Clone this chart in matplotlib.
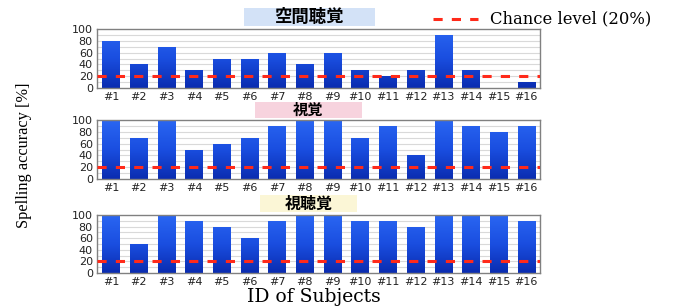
import numpy as np
import matplotlib
matplotlib.use("Agg")
import matplotlib.pyplot as plt
from matplotlib.colors import LinearSegmentedColormap
from matplotlib.patches import Rectangle

# Data
subjects = ["#%d" % i for i in range(1, 17)]
auditory = [80, 40, 70, 30, 50, 50, 60, 40, 60, 30, 20, 30, 90, 30, 0, 10]
visual = [100, 70, 100, 50, 60, 70, 90, 100, 100, 70, 90, 40, 100, 90, 80, 90]
audiovisual = [100, 50, 100, 90, 80, 60, 90, 100, 100, 90, 90, 80, 100, 100, 100, 90]
chance = 20

panel_titles = ["空間聴覚", "視覚", "視聴覚"]
title_colors = ["#d3e2f7", "#f7d3de", "#fbf6d6"]
title_sizes = [12.5, 11, 11.5]
panel_data = [auditory, visual, audiovisual]

W, H = 677, 307
fig = plt.figure(figsize=(W / 100, H / 100), dpi=100)

# axes boxes in pixels: (left, top, right, bottom)
boxes = [(97, 29, 540, 88), (97, 120, 540, 179), (97, 215, 540, 273)]
# title boxes in pixels: (left, top, right, bottom)
title_boxes = [(244, 8, 375, 26), (255, 102, 362, 118), (260, 195, 357, 212)]

grad = LinearSegmentedColormap.from_list("bar", ["#0a2cb0", "#1a4ee0", "#2a66f2"])
cjk = ["Noto Sans CJK JP", "DejaVu Sans"]
red = "#ff2a1a"
dash = (0, (3, 3))

x = np.arange(len(subjects))
gimg = np.linspace(0, 1, 256).reshape(-1, 1)
for vals, (l, t, r, b), title, tcol, tsize, (tl, tt, tr, tb) in zip(
        panel_data, boxes, panel_titles, title_colors, title_sizes, title_boxes):
    ax = fig.add_axes([l / W, 1 - b / H, (r - l) / W, (b - t) / H])
    for yv in range(10, 100, 10):
        ax.axhline(yv, color="#d9d9d9", lw=0.8, zorder=0)
    bars = ax.bar(x, vals, width=0.62, color="none", edgecolor="none", zorder=2)
    for bar in bars:
        if bar.get_height() <= 0:
            continue
        bx = bar.get_x()
        im = ax.imshow(gimg, cmap=grad, origin="lower", aspect="auto",
                       interpolation="bilinear",
                       extent=(bx, bx + bar.get_width(), 0, 100), zorder=2)
        im.set_clip_path(bar)
    ax.set_xlim(-0.5, len(subjects) - 0.5)
    ax.set_ylim(0, 100)
    ax.axhline(chance, color=red, lw=2.2, ls=dash, zorder=3)
    ax.set_yticks(range(0, 101, 20))
    ax.set_xticks(x)
    ax.set_xticklabels(subjects)
    ax.tick_params(length=0, labelsize=8, colors="#222222", pad=3)
    for s in ax.spines.values():
        s.set_color("#808080")
        s.set_linewidth(1.0)

    # coloured title box
    fig.add_artist(Rectangle((tl / W, 1 - tb / H), (tr - tl) / W, (tb - tt) / H,
                             transform=fig.transFigure, fc=tcol, ec="none"))
    fig.text((tl + tr) / 2 / W, 1 - (tt + tb) / 2 / H, title, ha="center",
             va="center", fontsize=tsize, fontweight="bold", family=cjk)

# legend for chance line
fig.add_artist(plt.Line2D([433 / W, 478 / W], [1 - 19 / H, 1 - 19 / H],
                          color=red, lw=2.2, ls=dash))
fig.text(490 / W, 1 - 19 / H, "Chance level (20%)", ha="left", va="center",
         fontsize=11.8, family="DejaVu Serif")

fig.text(24 / W, 1 - 155 / H, "Spelling accuracy [%]", rotation=90,
         ha="center", va="center", fontsize=11.8, family="Liberation Serif")
fig.text(314 / W, 1 - 297 / H, "ID of Subjects", ha="center", va="center",
         fontsize=13.5, family="DejaVu Serif")

fig.savefig("out.png", dpi=100)
